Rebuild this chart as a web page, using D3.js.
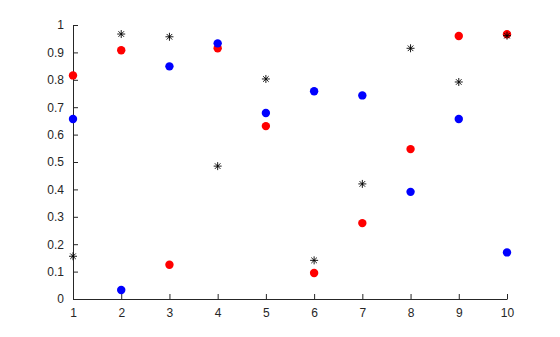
<!DOCTYPE html>
<html><head><meta charset="utf-8">
<script src="https://cdn.jsdelivr.net/npm/d3@7"></script>
<style>body{margin:0;background:#fff}</style>
</head><body>
<svg id="c" width="560" height="337"></svg>
<script>
const xs = [1,2,3,4,5,6,7,8,9,10];
const redVals = [0.816,0.908,0.125,0.915,0.631,0.095,0.277,0.547,0.960,0.966];
const blueVals = [0.657,0.033,0.849,0.933,0.679,0.758,0.743,0.391,0.657,0.170];
const starVals = [0.156,0.967,0.957,0.485,0.803,0.141,0.420,0.915,0.792,0.961];
const xTicks = [1,2,3,4,5,6,7,8,9,10];
const yTicks = [0,0.1,0.2,0.3,0.4,0.5,0.6,0.7,0.8,0.9,1];

const svg = d3.select("#c");
const x = d3.scaleLinear().domain([1,10]).range([73,507]);
const y = d3.scaleLinear().domain([0,1]).range([299,25]);
const axCol = "#262626";

const xa = svg.append("g").attr("transform","translate(0,299)")
  .call(d3.axisBottom(x).tickValues(xTicks).tickFormat(d3.format("d")).tickSizeInner(-5).tickSizeOuter(0).tickPadding(9));
const ya = svg.append("g").attr("transform","translate(73,0)")
  .call(d3.axisLeft(y).tickValues(yTicks).tickFormat(d=>d===0?"0":d===1?"1":d3.format(".1f")(d)).tickSizeInner(-5).tickSizeOuter(0).tickPadding(9));
[xa,ya].forEach(a=>{
  a.selectAll("path").attr("stroke",axCol).attr("stroke-width",1);
  a.selectAll("line").attr("stroke",axCol);
  a.selectAll("text").attr("fill",axCol).style("font-family","'Liberation Sans',Arial,sans-serif").style("font-size","12px");
});

svg.append("g").selectAll("circle").data(xs).join("circle")
  .attr("cx",(d,i)=>x(d)).attr("cy",(d,i)=>y(redVals[i])).attr("r",4.2).attr("fill","#ff0000");
svg.append("g").selectAll("circle").data(xs).join("circle")
  .attr("cx",(d,i)=>x(d)).attr("cy",(d,i)=>y(blueVals[i])).attr("r",4.2).attr("fill","#0000ff");
const s = 4;
const star = `M${-s},0H${s}M0,${-s}V${s}M${-s*0.7},${-s*0.7}L${s*0.7},${s*0.7}M${-s*0.7},${s*0.7}L${s*0.7},${-s*0.7}`;
svg.append("g").selectAll("path").data(xs).join("path")
  .attr("transform",(d,i)=>`translate(${x(d)},${y(starVals[i])})`)
  .attr("d",star).attr("stroke","#000").attr("stroke-width",0.9).attr("fill","none");
</script>
</body></html>
